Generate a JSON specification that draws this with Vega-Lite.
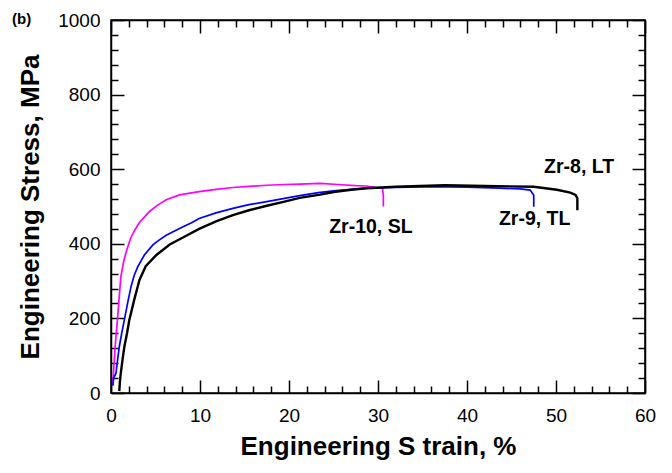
{
  "$schema": "https://vega.github.io/schema/vega-lite/v6.json",
  "width": 534,
  "height": 373,
  "autosize": "none",
  "padding": {"left": 111, "top": 20, "right": 27, "bottom": 80},
  "background": "white",
  "config": {
    "font": "Liberation Sans",
    "view": {"stroke": "black", "strokeWidth": 1.5},
    "axis": {"grid": false, "domainColor": "black", "domainWidth": 1.5, "tickColor": "black", "tickWidth": 1.5, "labelColor": "black", "titleColor": "black", "labelFont": "Liberation Sans", "titleFont": "Liberation Sans", "labelOverlap": false, "labelFlush": false}
  },
  "title": {"text": "(b)", "anchor": "start", "frame": "group", "dx": -99, "dy": 16, "offset": 0, "fontSize": 15, "fontWeight": "bold", "font": "Liberation Sans", "color": "black"},
  "datasets": {
    "curves": [
      {"specimen": "Zr-10, SL", "i": 1, "strain": 0.18, "stress": 20},
      {"specimen": "Zr-10, SL", "i": 2, "strain": 0.3, "stress": 60},
      {"specimen": "Zr-10, SL", "i": 3, "strain": 0.45, "stress": 120},
      {"specimen": "Zr-10, SL", "i": 4, "strain": 0.7, "stress": 190},
      {"specimen": "Zr-10, SL", "i": 5, "strain": 0.9, "stress": 250},
      {"specimen": "Zr-10, SL", "i": 6, "strain": 1.1, "stress": 310},
      {"specimen": "Zr-10, SL", "i": 7, "strain": 1.4, "stress": 350},
      {"specimen": "Zr-10, SL", "i": 8, "strain": 1.7, "stress": 378},
      {"specimen": "Zr-10, SL", "i": 9, "strain": 2.2, "stress": 415},
      {"specimen": "Zr-10, SL", "i": 10, "strain": 2.7, "stress": 438},
      {"specimen": "Zr-10, SL", "i": 11, "strain": 3.2, "stress": 457},
      {"specimen": "Zr-10, SL", "i": 12, "strain": 3.8, "stress": 473},
      {"specimen": "Zr-10, SL", "i": 13, "strain": 4.3, "stress": 486},
      {"specimen": "Zr-10, SL", "i": 14, "strain": 5.2, "stress": 503},
      {"specimen": "Zr-10, SL", "i": 15, "strain": 6.2, "stress": 518},
      {"specimen": "Zr-10, SL", "i": 16, "strain": 7.7, "stress": 531},
      {"specimen": "Zr-10, SL", "i": 17, "strain": 9.9, "stress": 540},
      {"specimen": "Zr-10, SL", "i": 18, "strain": 11.8, "stress": 546},
      {"specimen": "Zr-10, SL", "i": 19, "strain": 13.7, "stress": 551},
      {"specimen": "Zr-10, SL", "i": 20, "strain": 15.5, "stress": 554},
      {"specimen": "Zr-10, SL", "i": 21, "strain": 17.5, "stress": 557},
      {"specimen": "Zr-10, SL", "i": 22, "strain": 19.5, "stress": 559},
      {"specimen": "Zr-10, SL", "i": 23, "strain": 21.2, "stress": 560},
      {"specimen": "Zr-10, SL", "i": 24, "strain": 23.5, "stress": 562},
      {"specimen": "Zr-10, SL", "i": 25, "strain": 25.5, "stress": 559},
      {"specimen": "Zr-10, SL", "i": 26, "strain": 27.5, "stress": 556},
      {"specimen": "Zr-10, SL", "i": 27, "strain": 28.7, "stress": 555},
      {"specimen": "Zr-10, SL", "i": 28, "strain": 30.0, "stress": 550},
      {"specimen": "Zr-10, SL", "i": 29, "strain": 30.5, "stress": 549},
      {"specimen": "Zr-10, SL", "i": 30, "strain": 30.6, "stress": 530},
      {"specimen": "Zr-10, SL", "i": 31, "strain": 30.6, "stress": 500},
      {"specimen": "Zr-9, TL", "i": 1, "strain": 0.2, "stress": 20},
      {"specimen": "Zr-9, TL", "i": 2, "strain": 0.3, "stress": 40},
      {"specimen": "Zr-9, TL", "i": 3, "strain": 0.56, "stress": 53},
      {"specimen": "Zr-9, TL", "i": 4, "strain": 0.75, "stress": 90},
      {"specimen": "Zr-9, TL", "i": 5, "strain": 0.93, "stress": 124},
      {"specimen": "Zr-9, TL", "i": 6, "strain": 1.2, "stress": 160},
      {"specimen": "Zr-9, TL", "i": 7, "strain": 1.5, "stress": 196},
      {"specimen": "Zr-9, TL", "i": 8, "strain": 1.9, "stress": 245},
      {"specimen": "Zr-9, TL", "i": 9, "strain": 2.25, "stress": 285},
      {"specimen": "Zr-9, TL", "i": 10, "strain": 2.6, "stress": 315},
      {"specimen": "Zr-9, TL", "i": 11, "strain": 3.0, "stress": 338},
      {"specimen": "Zr-9, TL", "i": 12, "strain": 3.75, "stress": 370},
      {"specimen": "Zr-9, TL", "i": 13, "strain": 4.7, "stress": 397},
      {"specimen": "Zr-9, TL", "i": 14, "strain": 5.4, "stress": 410},
      {"specimen": "Zr-9, TL", "i": 15, "strain": 6.2, "stress": 423},
      {"specimen": "Zr-9, TL", "i": 16, "strain": 7.2, "stress": 435},
      {"specimen": "Zr-9, TL", "i": 17, "strain": 8.1, "stress": 446},
      {"specimen": "Zr-9, TL", "i": 18, "strain": 9.0, "stress": 456},
      {"specimen": "Zr-9, TL", "i": 19, "strain": 9.9, "stress": 468},
      {"specimen": "Zr-9, TL", "i": 20, "strain": 11.8, "stress": 483},
      {"specimen": "Zr-9, TL", "i": 21, "strain": 13.7, "stress": 495},
      {"specimen": "Zr-9, TL", "i": 22, "strain": 15.5, "stress": 505},
      {"specimen": "Zr-9, TL", "i": 23, "strain": 17.5, "stress": 513},
      {"specimen": "Zr-9, TL", "i": 24, "strain": 19.5, "stress": 522},
      {"specimen": "Zr-9, TL", "i": 25, "strain": 21.2, "stress": 529},
      {"specimen": "Zr-9, TL", "i": 26, "strain": 23.3, "stress": 537},
      {"specimen": "Zr-9, TL", "i": 27, "strain": 25.0, "stress": 542},
      {"specimen": "Zr-9, TL", "i": 28, "strain": 27.0, "stress": 546},
      {"specimen": "Zr-9, TL", "i": 29, "strain": 28.7, "stress": 549},
      {"specimen": "Zr-9, TL", "i": 30, "strain": 32.0, "stress": 551},
      {"specimen": "Zr-9, TL", "i": 31, "strain": 36.2, "stress": 553},
      {"specimen": "Zr-9, TL", "i": 32, "strain": 40.0, "stress": 552},
      {"specimen": "Zr-9, TL", "i": 33, "strain": 43.7, "stress": 549},
      {"specimen": "Zr-9, TL", "i": 34, "strain": 46.0, "stress": 547},
      {"specimen": "Zr-9, TL", "i": 35, "strain": 47.1, "stress": 544},
      {"specimen": "Zr-9, TL", "i": 36, "strain": 47.5, "stress": 530},
      {"specimen": "Zr-9, TL", "i": 37, "strain": 47.5, "stress": 499},
      {"specimen": "Zr-8, LT", "i": 1, "strain": 0.93, "stress": 5},
      {"specimen": "Zr-8, LT", "i": 2, "strain": 1.0, "stress": 30},
      {"specimen": "Zr-8, LT", "i": 3, "strain": 1.1, "stress": 53},
      {"specimen": "Zr-8, LT", "i": 4, "strain": 1.3, "stress": 90},
      {"specimen": "Zr-8, LT", "i": 5, "strain": 1.5, "stress": 124},
      {"specimen": "Zr-8, LT", "i": 6, "strain": 1.8, "stress": 160},
      {"specimen": "Zr-8, LT", "i": 7, "strain": 2.06, "stress": 196},
      {"specimen": "Zr-8, LT", "i": 8, "strain": 2.6, "stress": 249},
      {"specimen": "Zr-8, LT", "i": 9, "strain": 3.2, "stress": 303},
      {"specimen": "Zr-8, LT", "i": 10, "strain": 3.9, "stress": 340},
      {"specimen": "Zr-8, LT", "i": 11, "strain": 5.1, "stress": 370},
      {"specimen": "Zr-8, LT", "i": 12, "strain": 6.6, "stress": 398},
      {"specimen": "Zr-8, LT", "i": 13, "strain": 8.4, "stress": 421},
      {"specimen": "Zr-8, LT", "i": 14, "strain": 9.9, "stress": 440},
      {"specimen": "Zr-8, LT", "i": 15, "strain": 11.8, "stress": 460},
      {"specimen": "Zr-8, LT", "i": 16, "strain": 13.7, "stress": 477},
      {"specimen": "Zr-8, LT", "i": 17, "strain": 15.5, "stress": 490},
      {"specimen": "Zr-8, LT", "i": 18, "strain": 17.5, "stress": 502},
      {"specimen": "Zr-8, LT", "i": 19, "strain": 19.5, "stress": 513},
      {"specimen": "Zr-8, LT", "i": 20, "strain": 21.2, "stress": 523},
      {"specimen": "Zr-8, LT", "i": 21, "strain": 23.5, "stress": 532},
      {"specimen": "Zr-8, LT", "i": 22, "strain": 25.0, "stress": 539},
      {"specimen": "Zr-8, LT", "i": 23, "strain": 27.0, "stress": 545},
      {"specimen": "Zr-8, LT", "i": 24, "strain": 28.7, "stress": 549},
      {"specimen": "Zr-8, LT", "i": 25, "strain": 32.0, "stress": 553},
      {"specimen": "Zr-8, LT", "i": 26, "strain": 37.5, "stress": 557},
      {"specimen": "Zr-8, LT", "i": 27, "strain": 42.0, "stress": 555},
      {"specimen": "Zr-8, LT", "i": 28, "strain": 47.5, "stress": 553},
      {"specimen": "Zr-8, LT", "i": 29, "strain": 50.1, "stress": 545},
      {"specimen": "Zr-8, LT", "i": 30, "strain": 51.6, "stress": 537},
      {"specimen": "Zr-8, LT", "i": 31, "strain": 52.2, "stress": 531},
      {"specimen": "Zr-8, LT", "i": 32, "strain": 52.4, "stress": 522},
      {"specimen": "Zr-8, LT", "i": 33, "strain": 52.4, "stress": 510},
      {"specimen": "Zr-8, LT", "i": 34, "strain": 52.4, "stress": 490}
    ],
    "labels": [
      {"label": "Zr-10, SL", "strain": 29.2, "stress": 445},
      {"label": "Zr-9, TL", "strain": 47.6, "stress": 466},
      {"label": "Zr-8, LT", "strain": 52.6, "stress": 606}
    ]
  },
  "layer": [
    {
      "data": {"name": "curves"},
      "mark": {"type": "line", "clip": true},
      "encoding": {
        "x": {"field": "strain", "type": "quantitative", "scale": {"domain": [0, 60], "nice": false},
          "axis": {"orient": "bottom", "values": [0,2,4,6,8,10,12,14,16,18,20,22,24,26,28,30,32,34,36,38,40,42,44,46,48,50,52,54,56,58,60],
            "tickSize": {"condition": {"test": "datum.value % 10 === 0", "value": -13}, "value": -7},
            "labelExpr": "datum.value % 10 === 0 ? datum.label : ''", "format": "d",
            "labelFontSize": 19, "labelPadding": 26,
            "title": "Engineering S train, %", "titleFontSize": 26, "titleFontWeight": "bold", "titlePadding": 2}},
        "y": {"field": "stress", "type": "quantitative", "scale": {"domain": [0, 1000], "nice": false},
          "axis": {"orient": "left", "values": [0,40,80,120,160,200,240,280,320,360,400,440,480,520,560,600,640,680,720,760,800,840,880,920,960,1000],
            "tickSize": {"condition": {"test": "datum.value % 200 === 0", "value": -13}, "value": -7},
            "labelExpr": "datum.value % 200 === 0 ? datum.label : ''", "format": "d",
            "labelFontSize": 19, "labelPadding": 24,
            "title": "Engineering Stress, MPa", "titleFontSize": 26, "titleFontWeight": "bold", "titlePadding": 14}},
        "color": {"field": "specimen", "type": "nominal", "legend": null,
          "scale": {"domain": ["Zr-10, SL", "Zr-9, TL", "Zr-8, LT"], "range": ["#ff00ff", "#0000ff", "#000000"]}},
        "strokeWidth": {"condition": {"test": "datum.specimen === 'Zr-8, LT'", "value": 2.4}, "value": 1.7},
        "order": {"field": "i", "type": "quantitative"}
      }
    },
    {
      "data": {"name": "labels"},
      "mark": {"type": "text", "fontSize": 19.5, "fontWeight": "bold", "font": "Liberation Sans", "color": "black"},
      "encoding": {
        "x": {"field": "strain", "type": "quantitative", "scale": {"domain": [0, 60], "nice": false},
          "axis": {"orient": "top", "values": [0,2,4,6,8,10,12,14,16,18,20,22,24,26,28,30,32,34,36,38,40,42,44,46,48,50,52,54,56,58,60],
            "tickSize": {"condition": {"test": "datum.value % 10 === 0", "value": -13}, "value": -7},
            "labels": false, "title": null}},
        "y": {"field": "stress", "type": "quantitative", "scale": {"domain": [0, 1000], "nice": false},
          "axis": {"orient": "right", "values": [0,40,80,120,160,200,240,280,320,360,400,440,480,520,560,600,640,680,720,760,800,840,880,920,960,1000],
            "tickSize": {"condition": {"test": "datum.value % 200 === 0", "value": -13}, "value": -7},
            "labels": false, "title": null}},
        "text": {"field": "label", "type": "nominal"}
      }
    }
  ],
  "resolve": {"axis": {"x": "independent", "y": "independent"}}
}
